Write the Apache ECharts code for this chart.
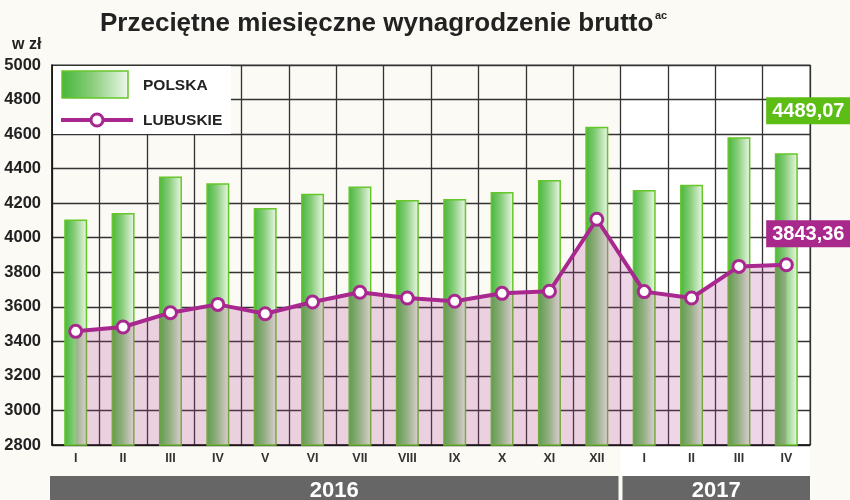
<!DOCTYPE html>
<html>
<head>
<meta charset="utf-8">
<script src="https://cdn.jsdelivr.net/npm/echarts@6/dist/echarts.min.js"></script>
<style>
html,body{margin:0;padding:0;background:#fbfaf5;}
#c{width:850px;height:500px;}
</style>
</head>
<body>
<div id="c"></div>
<script>
const categories = ['I','II','III','IV','V','VI','VII','VIII','IX','X','XI','XII','I','II','III','IV'];
const polska = [4105, 4143, 4355, 4315, 4172, 4255, 4297, 4218, 4224, 4265, 4334, 4643, 4276, 4307, 4581, 4489.07];
const lubuskie = [3458, 3483, 3566, 3614, 3560, 3628, 3684, 3651, 3632, 3678, 3690, 4107, 3688, 3651, 3834, 3843.36];
const years = ['2016', '2017'];
const yearMonths = [12, 4];
const titleText = 'Przeciętne miesięczne wynagrodzenie brutto';
const titleSup = 'ac';
const unitText = 'w zł';
const seriesNames = ['POLSKA', 'LUBUSKIE'];

const GREEN_GRAD = {type:'linear', x:0, y:0, x2:1, y2:0, colorStops:[
  {offset:0, color:'#45b63a'}, {offset:0.45, color:'#88cd7a'}, {offset:1, color:'#eef8ea'}]};
const PURPLE = '#a8288f';
const fmt = v => v.toFixed(2).replace('.', ',');

const last = polska.length - 1;
const barData = polska.map((v,i) => i === last ? {value:v, label:{show:true, position:'top', distance:5, offset:[22,-24],
  formatter: p => fmt(p.value), color:'#fff', fontWeight:'bold', fontSize:20, fontFamily:'Liberation Sans, Arial',
  backgroundColor:'#5cbe14', padding:[4,6,2,6], lineHeight:21}} : v);
const lineData = lubuskie.map((v,i) => i === last ? {value:v, label:{show:true, position:'top', distance:5, offset:[22,-5],
  formatter: p => fmt(p.value), color:'#fff', fontWeight:'bold', fontSize:20, fontFamily:'Liberation Sans, Arial',
  backgroundColor:'#a9288c', padding:[4,6,2,6], lineHeight:21}} : v);

const chart = echarts.init(document.getElementById('c'));
const G = {left:52, right:40, top:65, bottom:55};
const plotW = 850 - G.left - G.right;
const catW = plotW / categories.length;

// year bars
const yearGraphics = [];
let start = 0;
years.forEach((y, k) => {
  const x0 = G.left + start * catW - (k === 0 ? 2 : -2);
  const x1 = G.left + (start + yearMonths[k]) * catW - (k === years.length - 1 ? 0 : 2);
  yearGraphics.push({type:'rect', shape:{x:x0, y:476, width:x1-x0, height:24}, style:{fill:'#666666'}, z:10});
  yearGraphics.push({type:'text', x:(x0+x1)/2, y:491, style:{text:y, fill:'#fff', font:'bold 22px "Liberation Sans", Arial',
    textAlign:'center', textVerticalAlign:'middle'}, z:11});
  start += yearMonths[k];
});
const whiteX = G.left + yearMonths[0] * catW;

chart.setOption({
  backgroundColor:'#fbfaf5',
  animation:false,
  grid:{left:G.left, right:G.right, top:G.top, bottom:G.bottom, show:true, borderColor:'#666', borderWidth:1.2, backgroundColor:'transparent'},
  xAxis:{type:'category', data:categories, boundaryGap:true,
    axisLine:{show:true, lineStyle:{color:'#111', width:1.5}},
    axisTick:{show:false},
    axisLabel:{color:'#333', fontWeight:'bold', fontSize:12.5, fontFamily:'Liberation Sans, Arial', margin:7},
    splitLine:{show:true, lineStyle:{color:'#333', width:1.3}}},
  yAxis:{type:'value', min:2800, max:5000, interval:200,
    axisLine:{show:true, lineStyle:{color:'#111', width:1.5}},
    axisTick:{show:false},
    axisLabel:{color:'#222', fontWeight:'bold', fontSize:16.5, fontFamily:'Liberation Sans, Arial', margin:11, padding:[3,0,0,0],
      formatter: v => String(v)},
    splitLine:{show:true, lineStyle:{color:'#333', width:1.3}}},
  series:[
    {name:seriesNames[0], type:'bar', data:barData, barWidth:23,
      itemStyle:{color:GREEN_GRAD, borderColor:'#66c62a', borderWidth:1.5}, z:2},
    {name:seriesNames[1], type:'line', data:lineData, symbol:'circle', symbolSize:12,
      lineStyle:{color:PURPLE, width:4},
      itemStyle:{color:'#fff', borderColor:PURPLE, borderWidth:3},
      areaStyle:{color:'rgba(174,61,142,0.31)', origin:'start'}, z:3}
  ],
  graphic:[
    {type:'rect', shape:{x:whiteX, y:G.top, width:850-G.right-whiteX, height:476-G.top}, style:{fill:'#ffffff'}, z:-1},
    // legend box
    {type:'rect', shape:{x:G.left+1, y:G.top+1, width:178, height:68}, style:{fill:'#ffffff'}, z:5},
    {type:'rect', shape:{x:62, y:71, width:66, height:27}, style:{fill:GREEN_GRAD, stroke:'#66c62a', lineWidth:1.5}, z:6},
    {type:'text', x:143, y:86, style:{text:seriesNames[0], fill:'#222', font:'bold 15.5px "Liberation Sans", Arial', textVerticalAlign:'middle'}, z:6},
    {type:'line', shape:{x1:61, y1:120, x2:133, y2:120}, style:{stroke:PURPLE, lineWidth:4}, z:6},
    {type:'circle', shape:{cx:97, cy:120, r:6}, style:{fill:'#fff', stroke:PURPLE, lineWidth:3}, z:7},
    {type:'text', x:143, y:121, style:{text:seriesNames[1], fill:'#222', font:'bold 15.5px "Liberation Sans", Arial', textVerticalAlign:'middle'}, z:6},
    // title
    {type:'text', x:100, y:24, style:{text:titleText, fill:'#222', font:'bold 26px "Liberation Sans", Arial', textVerticalAlign:'middle'}, z:6},
    {type:'text', x:655, y:16, style:{text:titleSup, fill:'#222', font:'bold 11px "Liberation Sans", Arial', textVerticalAlign:'middle'}, z:6},
    {type:'text', x:12, y:45, style:{text:unitText, fill:'#222', font:'bold 16px "Liberation Sans", Arial', textVerticalAlign:'middle'}, z:6}
  ].concat(yearGraphics)
});
</script>
</body>
</html>
